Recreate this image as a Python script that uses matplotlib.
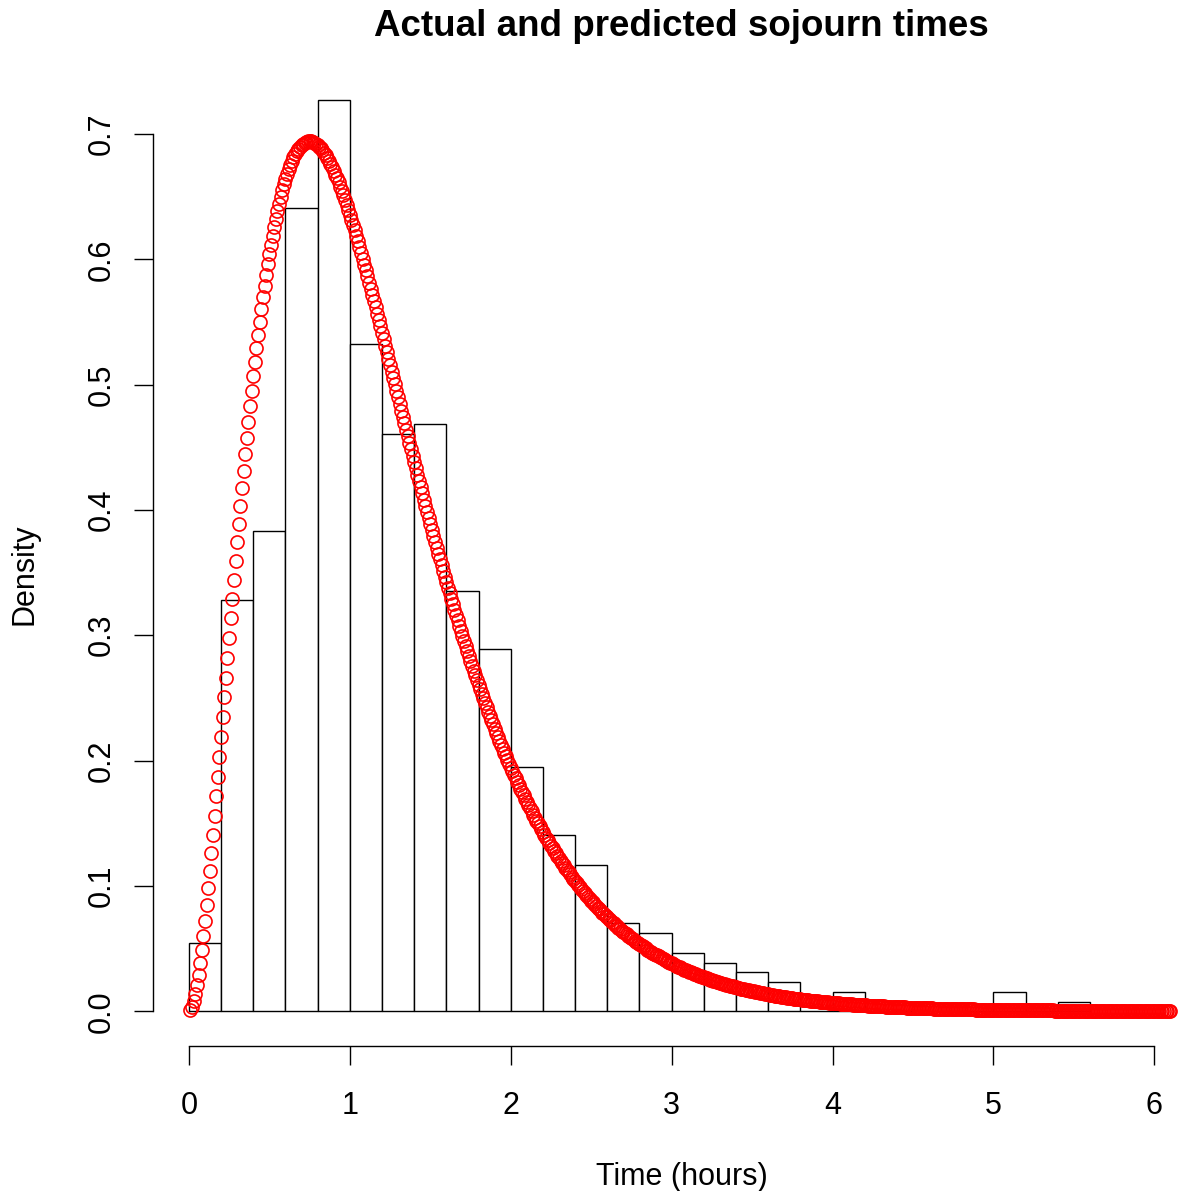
import numpy as np
import matplotlib
matplotlib.use("Agg")
from matplotlib import pyplot as plt

# observed sojourn times, density scale, bins of 0.2 hours
bin_left = [0.0, 0.2, 0.4, 0.6, 0.8, 1.0, 1.2, 1.4, 1.6, 1.8, 2.0, 2.2, 2.4, 2.6,
            2.8, 3.0, 3.2, 3.4, 3.6, 3.8, 4.0, 4.2, 4.4, 4.6, 4.8, 5.0, 5.2, 5.4]
bin_density = [0.0545, 0.328, 0.383, 0.6407, 0.7271, 0.5321, 0.4607, 0.4688,
               0.3356, 0.2891, 0.1952, 0.1404, 0.117, 0.0702, 0.0622, 0.0468,
               0.0388, 0.0311, 0.0231, 0.0, 0.0153, 0.0, 0.0, 0.0, 0.0, 0.0153,
               0.0, 0.0077]

# predicted density (red circles), one point every 0.01 h from 0.01 to 6.10
curve_x = np.round(np.arange(1, 611) * 0.01, 2)
curve_y = [
    0.0009, 0.0036, 0.0079, 0.0136, 0.0206, 0.0289, 0.0383, 0.0486, 0.0599, 0.0719,
    0.0847, 0.0980, 0.1119, 0.1263, 0.1410, 0.1561, 0.1715, 0.1870, 0.2028, 0.2186,
    0.2345, 0.2504, 0.2662, 0.2821, 0.2979, 0.3135, 0.3290, 0.3442, 0.3593, 0.3742,
    0.3888, 0.4032, 0.4172, 0.4310, 0.4445, 0.4576, 0.4704, 0.4829, 0.4950, 0.5068,
    0.5182, 0.5292, 0.5398, 0.5501, 0.5600, 0.5696, 0.5787, 0.5875, 0.5959, 0.6039,
    0.6116, 0.6188, 0.6258, 0.6323, 0.6385, 0.6443, 0.6498, 0.6549, 0.6597, 0.6641,
    0.6682, 0.6720, 0.6755, 0.6786, 0.6814, 0.6840, 0.6862, 0.6881, 0.6898, 0.6912,
    0.6923, 0.6931, 0.6937, 0.6941, 0.6941, 0.6940, 0.6936, 0.6930, 0.6922, 0.6912,
    0.6899, 0.6885, 0.6869, 0.6851, 0.6831, 0.6809, 0.6786, 0.6761, 0.6734, 0.6706,
    0.6676, 0.6646, 0.6614, 0.6580, 0.6545, 0.6509, 0.6472, 0.6434, 0.6395, 0.6355,
    0.6314, 0.6272, 0.6230, 0.6186, 0.6142, 0.6097, 0.6051, 0.6005, 0.5958, 0.5911,
    0.5863, 0.5814, 0.5766, 0.5716, 0.5667, 0.5617, 0.5566, 0.5516, 0.5465, 0.5414,
    0.5363, 0.5311, 0.5260, 0.5208, 0.5156, 0.5104, 0.5053, 0.5001, 0.4949, 0.4897,
    0.4845, 0.4793, 0.4742, 0.4690, 0.4638, 0.4587, 0.4536, 0.4485, 0.4434, 0.4383,
    0.4332, 0.4282, 0.4232, 0.4182, 0.4132, 0.4083, 0.4034, 0.3985, 0.3936, 0.3888,
    0.3840, 0.3793, 0.3745, 0.3698, 0.3652, 0.3605, 0.3559, 0.3514, 0.3468, 0.3423,
    0.3379, 0.3335, 0.3291, 0.3247, 0.3204, 0.3161, 0.3119, 0.3077, 0.3036, 0.2995,
    0.2954, 0.2914, 0.2874, 0.2834, 0.2795, 0.2756, 0.2718, 0.2680, 0.2642, 0.2605,
    0.2568, 0.2532, 0.2496, 0.2460, 0.2425, 0.2390, 0.2356, 0.2322, 0.2288, 0.2255,
    0.2222, 0.2190, 0.2158, 0.2126, 0.2095, 0.2064, 0.2033, 0.2003, 0.1973, 0.1944,
    0.1915, 0.1886, 0.1858, 0.1830, 0.1802, 0.1775, 0.1748, 0.1722, 0.1695, 0.1669,
    0.1644, 0.1619, 0.1594, 0.1569, 0.1545, 0.1521, 0.1498, 0.1475, 0.1452, 0.1429,
    0.1407, 0.1385, 0.1363, 0.1342, 0.1321, 0.1300, 0.1280, 0.1260, 0.1240, 0.1220,
    0.1201, 0.1182, 0.1163, 0.1145, 0.1126, 0.1108, 0.1091, 0.1073, 0.1056, 0.1039,
    0.1022, 0.1006, 0.0990, 0.0974, 0.0958, 0.0942, 0.0927, 0.0912, 0.0897, 0.0883,
    0.0869, 0.0854, 0.0840, 0.0827, 0.0813, 0.0800, 0.0787, 0.0774, 0.0761, 0.0749,
    0.0736, 0.0724, 0.0712, 0.0700, 0.0689, 0.0678, 0.0666, 0.0655, 0.0644, 0.0634,
    0.0623, 0.0613, 0.0603, 0.0593, 0.0583, 0.0573, 0.0563, 0.0554, 0.0545, 0.0536,
    0.0527, 0.0518, 0.0509, 0.0501, 0.0492, 0.0484, 0.0476, 0.0468, 0.0460, 0.0452,
    0.0445, 0.0437, 0.0430, 0.0422, 0.0415, 0.0408, 0.0401, 0.0395, 0.0388, 0.0381,
    0.03748, 0.03684, 0.03621, 0.03560, 0.03499, 0.03440, 0.03381, 0.03323, 0.03267, 0.03211,
    0.03156, 0.03102, 0.03049, 0.02997, 0.02946, 0.02896, 0.02846, 0.02797, 0.02749, 0.02702,
    0.02656, 0.02610, 0.02565, 0.02521, 0.02478, 0.02435, 0.02393, 0.02352, 0.02312, 0.02272,
    0.02233, 0.02194, 0.02156, 0.02119, 0.02082, 0.02047, 0.02011, 0.01977, 0.01942, 0.01909,
    0.01876, 0.01843, 0.01811, 0.01780, 0.01749, 0.01719, 0.01689, 0.01660, 0.01631, 0.01602,
    0.01575, 0.01547, 0.01520, 0.01494, 0.01468, 0.01442, 0.01417, 0.01393, 0.01368, 0.01345,
    0.01321, 0.01298, 0.01275, 0.01253, 0.01231, 0.01210, 0.01189, 0.01168, 0.01148, 0.01128,
    0.01108, 0.01089, 0.01070, 0.01051, 0.01032, 0.01014, 0.00997, 0.00979, 0.00962, 0.00945,
    0.00929, 0.00912, 0.00896, 0.00881, 0.00865, 0.00850, 0.00835, 0.00821, 0.00806, 0.00792,
    0.00778, 0.00764, 0.00751, 0.00738, 0.00725, 0.00712, 0.00700, 0.00687, 0.00675, 0.00663,
    0.00652, 0.00640, 0.00629, 0.00618, 0.00607, 0.00596, 0.00586, 0.00576, 0.00566, 0.00556,
    0.00546, 0.00536, 0.00527, 0.00517, 0.00508, 0.00499, 0.00491, 0.00482, 0.00473, 0.00465,
    0.00457, 0.00449, 0.00441, 0.00433, 0.00425, 0.00418, 0.00411, 0.00403, 0.00396, 0.00389,
    0.00382, 0.00376, 0.00369, 0.00362, 0.00356, 0.00350, 0.00344, 0.00338, 0.00332, 0.00326,
    0.00320, 0.00314, 0.00309, 0.00303, 0.00298, 0.00293, 0.00287, 0.00282, 0.00277, 0.00272,
    0.00268, 0.00263, 0.00258, 0.00254, 0.00249, 0.00245, 0.00240, 0.00236, 0.00232, 0.00228,
    0.00224, 0.00220, 0.00216, 0.00212, 0.00208, 0.00205, 0.00201, 0.00197, 0.00194, 0.00191,
    0.00187, 0.00184, 0.00181, 0.00177, 0.00174, 0.00171, 0.00168, 0.00165, 0.00162, 0.00159,
    0.00157, 0.00154, 0.00151, 0.00148, 0.00146, 0.00143, 0.00141, 0.00138, 0.00136, 0.00133,
    0.00131, 0.00129, 0.00126, 0.00124, 0.00122, 0.00120, 0.00118, 0.00115, 0.00113, 0.00111,
    0.00109, 0.00107, 0.00106, 0.00104, 0.00102, 0.00100, 0.00098, 0.00097, 0.00095, 0.00093,
    0.00091, 0.00090, 0.00088, 0.00087, 0.00085, 0.00084, 0.00082, 0.00081, 0.00079, 0.00078,
    0.00076, 0.00075, 0.00074, 0.00072, 0.00071, 0.00070, 0.00069, 0.00067, 0.00066, 0.00065,
    0.00064, 0.00063, 0.00062, 0.00061, 0.00059, 0.00058, 0.00057, 0.00056, 0.00055, 0.00054,
    0.00053, 0.00052, 0.00052, 0.00051, 0.00050, 0.00049, 0.00048, 0.00047, 0.00046, 0.00045,
    0.00045, 0.00044, 0.00043, 0.00042, 0.00042, 0.00041, 0.00040, 0.00039, 0.00039, 0.00038,
    0.00037, 0.00037, 0.00036, 0.00035, 0.00035, 0.00034, 0.00033, 0.00033, 0.00032, 0.00032,
    0.00031, 0.00031, 0.00030, 0.00030, 0.00029, 0.00029, 0.00028, 0.00028, 0.00027, 0.00027,
    0.00026, 0.00026, 0.00025, 0.00025, 0.00024, 0.00024, 0.00023, 0.00023, 0.00023, 0.00022,
    0.00022, 0.00021, 0.00021, 0.00021, 0.00020, 0.00020, 0.00020, 0.00019, 0.00019, 0.00019,
    0.00018, 0.00018, 0.00018, 0.00017, 0.00017, 0.00017, 0.00016, 0.00016, 0.00016, 0.00016,
]

x_ticks = [0, 1, 2, 3, 4, 5, 6]
y_ticks = [0.0, 0.1, 0.2, 0.3, 0.4, 0.5, 0.6, 0.7]

plt.rcParams['font.family'] = ['Liberation Sans', 'DejaVu Sans']

W, H = 1184, 1191
fig = plt.figure(figsize=(W / 100, H / 100), dpi=100)
# plot region in pixels: left 153, right 1210 (runs past the edge), top 100, bottom 1046
ax = fig.add_axes([153 / W, 1 - 1046.3 / H, 1056.5 / W, 946.2 / H])
ax.set_xlim(-0.223, 6.343)
ax.set_ylim(-0.028, 0.727)

ax.bar(bin_left, bin_density, width=0.2, align='edge', color='white',
       edgecolor='black', linewidth=1.0, zorder=2, clip_on=False)
ax.plot(curve_x, curve_y, 'o', mfc='none', mec='red', ms=9.4, mew=1.2,
        zorder=3, clip_on=False)

for s in ['top', 'right']:
    ax.spines[s].set_visible(False)
ax.spines['left'].set_bounds(0, 0.7)
ax.spines['bottom'].set_bounds(0, 6)
ax.spines['left'].set_linewidth(1.0)
ax.spines['bottom'].set_linewidth(1.0)

ax.set_xticks(x_ticks)
ax.set_xticklabels([str(t) for t in x_ticks])
ax.set_yticks(y_ticks)
ax.set_yticklabels(["%.1f" % t for t in y_ticks])
ax.tick_params(direction='out', length=13.5, width=1.0, labelsize=22)
ax.tick_params(axis='x', pad=18.5)
ax.tick_params(axis='y', pad=12.5, labelrotation=90)
for lab in ax.get_yticklabels():
    lab.set_va('center')

fig.text(681.5 / W, 1 - 27 / H, "Actual and predicted sojourn times",
         ha='center', va='center', fontsize=26.5, fontweight='bold')
fig.text(681.5 / W, 1 - 1177 / H, "Time (hours)", ha='center', va='center', fontsize=22)
fig.text(25 / W, 1 - 574 / H, "Density", ha='center', va='center', rotation=90, fontsize=22)

fig.savefig("out.png", dpi=100)
